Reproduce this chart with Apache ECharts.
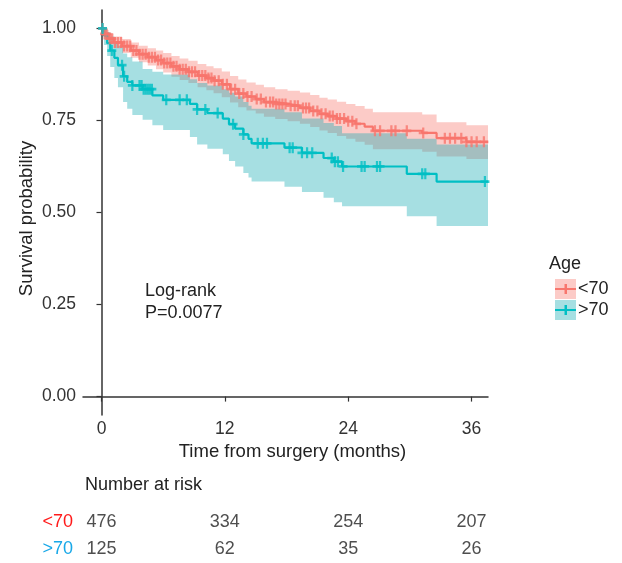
<!DOCTYPE html>
<html>
<head>
<meta charset="utf-8">
<script src="https://cdn.jsdelivr.net/npm/echarts@6/dist/echarts.min.js"></script>
<style>
  html, body { margin: 0; padding: 0; background: #fff; }
  #main { width: 622px; height: 563px; }
</style>
</head>
<body>
<div id="main"></div>
<script>
// --- data ---
const followUpEnd = 37.6;

// age < 70
const youngTimes = [0, 0.3, 0.7, 1.2, 2.0, 2.85, 3.65, 4.5, 5.3, 6.0, 6.8, 7.6, 8.45, 9.35, 10.2, 10.9, 11.7, 12.5, 13.3, 14.1, 15.0, 15.8, 16.9, 18.1, 19.3, 20.3, 21.2, 22.0, 22.9, 23.8, 24.7, 25.6, 26.4, 31.2, 32.6, 35.5];
const youngSurv  = [1, 0.985, 0.972, 0.962, 0.952, 0.94, 0.93, 0.922, 0.914, 0.906, 0.897, 0.889, 0.882, 0.872, 0.865, 0.858, 0.848, 0.835, 0.823, 0.815, 0.808, 0.80, 0.795, 0.79, 0.784, 0.776, 0.768, 0.762, 0.755, 0.748, 0.741, 0.733, 0.722, 0.716, 0.702, 0.692];
const youngLower = [1, 0.974, 0.958, 0.946, 0.933, 0.92, 0.908, 0.899, 0.889, 0.88, 0.869, 0.86, 0.852, 0.84, 0.832, 0.824, 0.813, 0.799, 0.786, 0.777, 0.769, 0.76, 0.754, 0.748, 0.741, 0.732, 0.723, 0.716, 0.708, 0.70, 0.692, 0.684, 0.672, 0.665, 0.652, 0.645];
const youngUpper = [1, 0.996, 0.986, 0.978, 0.971, 0.962, 0.953, 0.946, 0.94, 0.933, 0.925, 0.918, 0.912, 0.903, 0.897, 0.892, 0.883, 0.871, 0.861, 0.853, 0.847, 0.84, 0.835, 0.831, 0.826, 0.819, 0.812, 0.807, 0.801, 0.795, 0.789, 0.782, 0.772, 0.766, 0.745, 0.737];
const youngCensor = [0.1, 0.3, 0.5, 0.8, 1.0, 1.3, 1.6, 1.9, 2.2, 2.5, 2.8, 3.1, 3.4, 3.7, 4.0, 4.3, 4.6, 4.9, 5.2, 5.5, 5.8, 6.1, 6.4, 6.7, 7.0, 7.3, 7.6, 7.9, 8.2, 8.5, 8.8, 9.1, 9.5, 9.8, 10.1, 10.4, 10.7, 11.0, 11.4, 11.8, 12.2, 12.6, 13.0, 13.4, 13.8, 14.2, 14.6, 15.1, 15.5, 16.0, 16.4, 16.7, 17.0, 17.3, 17.6, 17.9, 18.4, 18.8, 19.1, 19.6, 19.9, 20.2, 20.6, 21.0, 21.4, 21.8, 22.2, 22.5, 22.9, 23.2, 23.6, 24.0, 24.4, 24.8, 26.6, 27.1, 28.2, 28.6, 29.7, 31.3, 33.4, 33.9, 34.4, 35.0, 35.5, 36.0, 36.5, 37.2];

// age > 70
const oldTimes = [0, 0.25, 0.55, 0.85, 1.25, 1.6, 2.1, 2.5, 3.0, 4.0, 4.95, 6.0, 8.6, 9.3, 10.3, 11.8, 12.4, 13.0, 13.8, 14.3, 14.6, 17.8, 19.5, 21.6, 22.6, 23.4, 29.7, 32.6];
const oldSurv  = [1, 0.98, 0.96, 0.94, 0.92, 0.90, 0.87, 0.855, 0.845, 0.835, 0.818, 0.806, 0.795, 0.78, 0.77, 0.755, 0.74, 0.728, 0.712, 0.70, 0.688, 0.676, 0.662, 0.648, 0.638, 0.625, 0.605, 0.584];
const oldLower = [1, 0.955, 0.925, 0.895, 0.865, 0.84, 0.80, 0.782, 0.765, 0.752, 0.737, 0.724, 0.705, 0.685, 0.673, 0.658, 0.64, 0.625, 0.607, 0.595, 0.584, 0.57, 0.556, 0.54, 0.528, 0.517, 0.49, 0.463];
const oldUpper = [1, 1.0, 0.99, 0.978, 0.963, 0.952, 0.932, 0.922, 0.91, 0.89, 0.882, 0.875, 0.862, 0.852, 0.845, 0.835, 0.825, 0.815, 0.80, 0.79, 0.782, 0.772, 0.755, 0.743, 0.735, 0.715, 0.70, 0.685];
const oldCensor = [0.1, 1.0, 2.0, 2.2, 3.0, 3.7, 3.9, 4.1, 4.3, 4.5, 4.7, 4.9, 6.3, 7.6, 8.3, 9.3, 10.1, 11.3, 12.8, 13.8, 15.2, 15.7, 16.1, 18.3, 18.6, 19.5, 20.0, 20.5, 22.4, 22.7, 23.0, 23.5, 25.3, 25.6, 26.8, 27.1, 31.2, 31.5, 37.3];

// number at risk
const riskTimes = [0, 12, 24, 36];
const riskYoung = [476, 334, 254, 207];
const riskOld   = [125, 62, 35, 26];

const yTicks = [0, 0.25, 0.5, 0.75, 1];
const xTicks = [0, 12, 24, 36];

const RED = '#F8766D';
const TEAL = '#00BFC4';
const RED_FILL = 'rgba(248,118,109,0.38)';
const TEAL_FILL = 'rgba(20,170,178,0.38)';
const FONT = '"Liberation Sans", Arial, Helvetica, sans-serif';
const CROSS = 'path://M3.75,0h2.5v3.75h3.75v2.5h-3.75v3.75h-2.5v-3.75h-3.75v-2.5h3.75z';

// helpers
const withEnd = (times, vals) => times.map((t, i) => [t, vals[i]]).concat([[followUpEnd, vals[vals.length - 1]]]);
const stepAt = (times, vals, t) => {
  let v = vals[0];
  for (let i = 0; i < times.length; i++) if (times[i] <= t) v = vals[i];
  return v;
};
const censorPts = (c, times, vals) => c.map(t => [t, stepAt(times, vals, t)]);

// confidence band as one stepped polygon, drawn through the axes
const band = (times, lo, hi, color) => ({
  type: 'custom', silent: true, z: 1,
  data: times.map((t, i) => [t, lo[i], hi[i]]),
  encode: { x: 0, y: [1, 2] },
  renderItem: (params, api) => {
    if (params.dataIndex !== 0) return null;
    const n = times.length;
    const top = [], bottom = [];
    for (let i = 0; i < n; i++) {
      const t1 = i < n - 1 ? times[i + 1] : followUpEnd;
      top.push(api.coord([times[i], hi[i]]), api.coord([t1, hi[i]]));
      bottom.push(api.coord([times[i], lo[i]]), api.coord([t1, lo[i]]));
    }
    return { type: 'polygon', shape: { points: top.concat(bottom.reverse()) }, style: { fill: color } };
  }
});

const chart = echarts.init(document.getElementById('main'));

chart.setOption({
  animation: false,
  textStyle: { fontFamily: FONT },
  grid: [
    { left: 83, top: 10, width: 405, height: 405 },
    { left: 83, top: 508, width: 405, height: 56 }
  ],
  xAxis: [{
    type: 'value', gridIndex: 0, min: -1.8, max: followUpEnd,
    name: 'Time from surgery (months)', nameLocation: 'middle', nameGap: 27,
    nameTextStyle: { fontSize: 18.5, color: '#222', fontFamily: FONT, padding: [0, 0, 0, 14] },
    axisLine: { lineStyle: { color: '#333', width: 1.5 } },
    axisTick: { length: 5, lineStyle: { color: '#333', width: 1.2 }, customValues: xTicks },
    axisLabel: { fontSize: 17.5, color: '#333', margin: 5, customValues: xTicks, fontFamily: FONT },
    splitLine: { show: false }
  }, {
    type: 'value', gridIndex: 1, min: -1.8, max: followUpEnd, show: false
  }],
  yAxis: [{
    type: 'value', gridIndex: 0, min: -0.05, max: 1.05,
    name: 'Survival probability', nameLocation: 'middle', nameGap: 47, nameMoveOverlap: false,
    nameTextStyle: { fontSize: 18.5, color: '#222', fontFamily: FONT, padding: [0, 12, 0, 0] },
    axisLine: { show: true, lineStyle: { color: '#333', width: 1.5 } },
    axisTick: { show: true, length: 5, lineStyle: { color: '#333', width: 1.2 }, customValues: yTicks },
    axisLabel: { fontSize: 17.5, color: '#333', margin: 7, customValues: yTicks, fontFamily: FONT,
                 formatter: v => v.toFixed(2) },
    splitLine: { show: false }
  }, {
    type: 'category', gridIndex: 1, data: ['>70', '<70'],
    axisLine: { show: false }, axisTick: { show: false },
    axisLabel: {
      margin: 10, fontSize: 18, fontFamily: FONT,
      formatter: v => v === '<70' ? '{r|<70}' : '{b|>70}',
      rich: { r: { color: '#FF1A1A', fontSize: 18, fontFamily: FONT },
              b: { color: '#18A8E8', fontSize: 18, fontFamily: FONT } }
    }
  }],
  graphic: [
    { type: 'text', left: 145, top: 282, style: { text: 'Log-rank', fill: '#222', font: '18px ' + FONT } },
    { type: 'text', left: 145, top: 304, style: { text: 'P=0.0077', fill: '#222', font: '18px ' + FONT } },
    { type: 'text', left: 85, top: 476, style: { text: 'Number at risk', fill: '#222', font: '18px ' + FONT } },
    { type: 'text', left: 549, top: 255, style: { text: 'Age', fill: '#222', font: '18px ' + FONT } },
    // legend keys
    { type: 'rect', shape: { x: 555, y: 279, width: 21, height: 20 }, style: { fill: RED_FILL } },
    { type: 'line', shape: { x1: 555, y1: 289, x2: 576, y2: 289 }, style: { stroke: RED, lineWidth: 2 } },
    { type: 'rect', shape: { x: 564.5, y: 284, width: 2.5, height: 10 }, style: { fill: RED } },
    { type: 'rect', shape: { x: 555, y: 300, width: 21, height: 20 }, style: { fill: TEAL_FILL } },
    { type: 'line', shape: { x1: 555, y1: 310, x2: 576, y2: 310 }, style: { stroke: TEAL, lineWidth: 2 } },
    { type: 'rect', shape: { x: 564.5, y: 305, width: 2.5, height: 10 }, style: { fill: TEAL } },
    { type: 'text', left: 578, top: 280, style: { text: '<70', fill: '#222', font: '18px ' + FONT } },
    { type: 'text', left: 578, top: 301, style: { text: '>70', fill: '#222', font: '18px ' + FONT } }
  ],
  series: [
    band(youngTimes, youngLower, youngUpper, RED_FILL),
    band(oldTimes, oldLower, oldUpper, TEAL_FILL),
    { name: '<70', type: 'line', step: 'end', symbol: 'none', z: 3,
      lineStyle: { color: RED, width: 2.2 }, data: withEnd(youngTimes, youngSurv) },
    { name: '>70', type: 'line', step: 'end', symbol: 'none', z: 3,
      lineStyle: { color: TEAL, width: 2.2 }, data: withEnd(oldTimes, oldSurv) },
    { type: 'scatter', symbol: CROSS, symbolSize: [9, 11], z: 4, silent: true,
      itemStyle: { color: RED }, data: censorPts(youngCensor, youngTimes, youngSurv) },
    { type: 'scatter', symbol: CROSS, symbolSize: [9, 11], z: 4, silent: true,
      itemStyle: { color: TEAL }, data: censorPts(oldCensor, oldTimes, oldSurv) },
    { type: 'scatter', xAxisIndex: 1, yAxisIndex: 1, symbolSize: 1, silent: true,
      itemStyle: { color: 'rgba(0,0,0,0)' },
      label: { show: true, position: 'inside', fontSize: 18, color: '#222', fontFamily: FONT,
               formatter: p => p.value[2] },
      data: riskTimes.map((t, i) => [t, '<70', riskYoung[i]])
        .concat(riskTimes.map((t, i) => [t, '>70', riskOld[i]])) }
  ]
});
</script>
</body>
</html>
